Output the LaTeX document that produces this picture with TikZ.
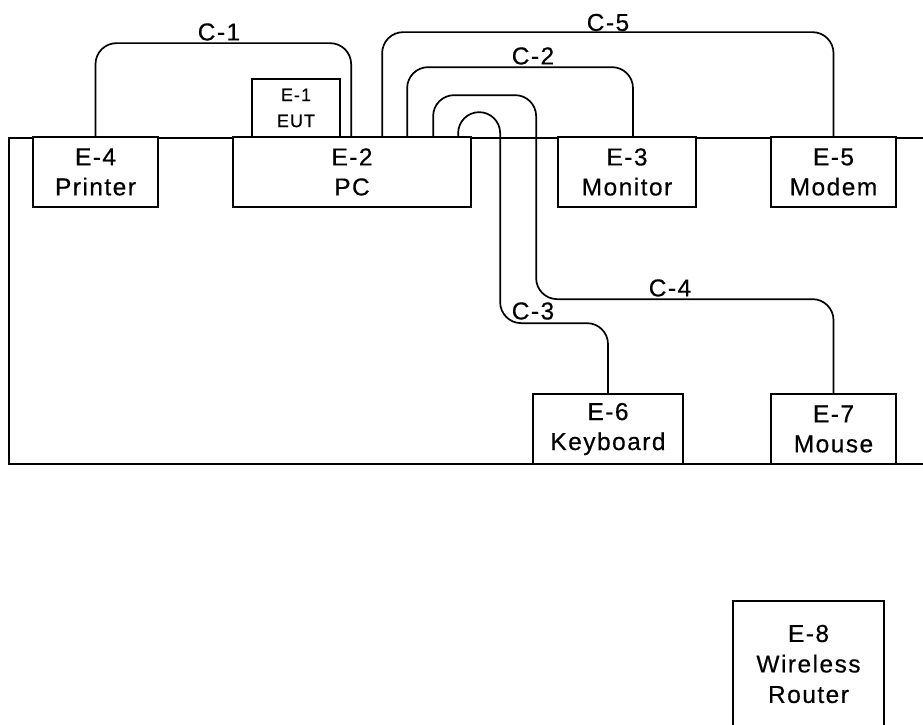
\documentclass[tikz,border=0pt]{standalone}
\usepackage{fontspec}
\setmainfont[LetterSpace=6,FakeBold=0.4]{Liberation Sans}
\usetikzlibrary{calc}
\begin{document}
\begin{tikzpicture}[x=1pt,y=-1pt,line width=1.7pt,
  box/.style={draw,fill=white,line width=1.7pt,inner sep=0pt,align=center,
    font=\fontsize{24.5}{30}\selectfont},
  smallbox/.style={box,font=\fontsize{18}{26}\selectfont},
  bigbox/.style={box,font=\fontsize{24.5}{30.5}\selectfont},
  cable/.style={draw,line width=1.7pt,rounded corners=21pt},
  lab/.style={inner sep=0pt,font=\fontsize{24.5}{30}\selectfont}]
\useasboundingbox (0,0) rectangle (923,725);
\clip (0,0) rectangle (923,725);
\fill[white] (0,0) rectangle (923,725);
% table
\node[draw,minimum width=930pt,minimum height=326pt,anchor=north west,inner sep=0pt] (tbl) at (8,137) {};
% equipment
\node[box,minimum width=125pt,minimum height=70pt] (e4) at (95.5,172) {E-4\\Printer};
\node[box,minimum width=238pt,minimum height=70pt] (e2) at (352,172) {E-2\\PC};
\node[smallbox,minimum width=88pt,minimum height=58pt] (e1) at (296,108) {E-1\\EUT};
\node[box,minimum width=138pt,minimum height=70pt] (e3) at (627,172) {E-3\\Monitor};
\node[box,minimum width=125pt,minimum height=70pt] (e5) at (833.5,172) {E-5\\Modem};
\node[box,minimum width=150pt,minimum height=70pt] (e6) at (608,429) {E-6\\Keyboard};
\node[box,minimum width=125pt,minimum height=70pt] (e7) at (833.5,429) {E-7\\Mouse};
\node[bigbox,minimum width=151pt,minimum height=126pt] (e8) at (808.5,664) {E-8\\Wireless\\Router};
% cables
\draw[cable] (e4.north) -- ++(0,-93) -| ($(e2.north west)+(119,0)$);
\draw[cable] ($(e2.north west)+(150,0)$) -- ++(0,-104) -| (e5.north);
\draw[cable] ($(e2.north west)+(175,0)$) -- ++(0,-69) -| ($(e3.north)+(6,0)$);
\draw[cable] ($(e2.north west)+(201,0)$) -- ++(0,-41) -- ++(103,0) -- ++(0,204) -| (e7.north);
\draw[cable] ($(e2.north west)+(226,0)$) -- ++(0,-24) -- ++(42,0) -- ++(0,211) -| (e6.north);
% labels
\node[lab] (c1) at (219,32) {C-1};
\node[lab] (c5) at (608,22.5) {C-5};
\node[lab] (c2) at (533,56) {C-2};
\node[lab] (c3) at (533,311) {C-3};
\node[lab] (c4) at (670,288) {C-4};
\end{tikzpicture}
\end{document}
